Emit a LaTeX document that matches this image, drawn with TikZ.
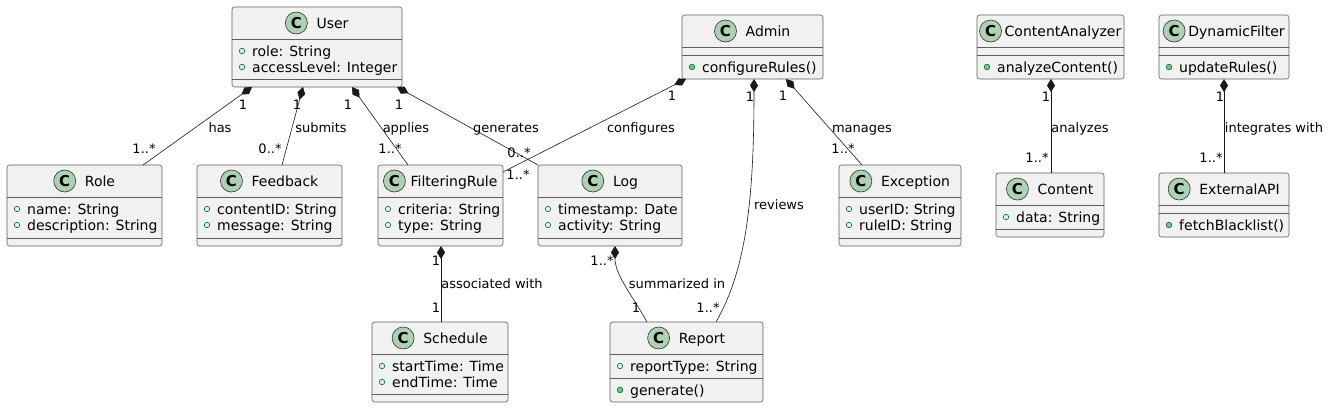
\documentclass[tikz,border=0pt]{standalone}
\usepackage{fontspec}
\setmainfont{DejaVu Sans}
\usetikzlibrary{arrows.meta}
\definecolor{boxfill}{HTML}{F1F1F1}
\definecolor{boxline}{HTML}{5E5E5E}
\definecolor{circline}{HTML}{303030}
\definecolor{circfill}{HTML}{ADD1B2}
\definecolor{icline}{HTML}{038048}
\definecolor{icfill}{HTML}{84BE84}
\tikzset{
  cls/.style={draw=boxline, fill=boxfill, line width=0.6pt, rounded corners=2.5pt, inner sep=0pt, outer sep=0pt, anchor=north west},
  ttl/.style={font=\fontsize{14}{16}\selectfont, inner sep=0pt, anchor=base},
  circ/.style={circle, draw=circline, fill=circfill, line width=0.6pt, minimum size=22pt, inner sep=0pt, font=\bfseries\fontsize{15}{15}\selectfont},
  atxt/.style={font=\fontsize{14}{16}\selectfont, inner sep=0pt, anchor=base west},
  sepline/.style={draw=boxline, line width=0.6pt},
  lbl/.style={font=\fontsize{13}{15}\selectfont, inner sep=0pt, anchor=base},
  comp/.style={draw=black!90, line width=0.6pt, {Diamond[length=13pt,width=8pt]}-},
}
\newcommand\clsbox[5]{%
  \pgfmathsetmacro\bw{#4-#2}\pgfmathsetmacro\bh{#5-#3}%
  \node[cls, minimum width=\bw pt, minimum height=\bh pt] (#1) at (#2,#3) {};}
\newcommand\clshead[5]{%
  \pgfmathsetmacro\sh{(22+#5)/2}\pgfmathsetmacro\cs{#5+11}%
  \node[ttl] (#1-t) at (#3+\sh,#4+5) {#2};
  \node[circ] (#1-c) at ([xshift=-\cs pt, yshift=5pt]#1-t.base west) {C};}
\newcommand\hsep[3]{\draw[sepline] (#1,#3) -- (#2,#3);}
\newcommand\attr[4]{%
  \draw[icline, line width=0.7pt] (#2+10,#3-5) circle[radius=2.7pt];
  \node[atxt] (#1) at (#2+20,#3) {#4};}
\newcommand\meth[4]{%
  \draw[icline, fill=icfill, line width=0.7pt] (#2+10,#3-5) circle[radius=2.8pt];
  \node[atxt] (#1) at (#2+20,#3) {#4};}
\begin{document}
\begin{tikzpicture}[x=1pt,y=-1pt]
\useasboundingbox[fill=white] (0,0) rectangle (1330,408);

% User
\clsbox{user}{232}{7}{402}{87}
\clshead{user}{User}{317}{23}{9}
\hsep{232}{402}{39}
\attr{user-a1}{232}{56}{role: String}
\attr{user-a2}{232}{72}{accessLevel: Integer}
\hsep{232}{402}{79}

% Admin
\clsbox{admin}{682}{15}{823}{79}
\clshead{admin}{Admin}{752.5}{31}{9}
\hsep{682}{823}{47}
\hsep{682}{823}{55}
\meth{admin-m1}{682}{72}{configureRules()}

% ContentAnalyzer
\clsbox{canalyzer}{977}{15}{1124}{79}
\clshead{canalyzer}{ContentAnalyzer}{1050.5}{31}{3}
\hsep{977}{1124}{47}
\hsep{977}{1124}{55}
\meth{canalyzer-m1}{977}{72}{analyzeContent()}

% DynamicFilter
\clsbox{dfilter}{1159}{15}{1289}{79}
\clshead{dfilter}{DynamicFilter}{1224}{31}{3}
\hsep{1159}{1289}{47}
\hsep{1159}{1289}{55}
\meth{dfilter-m1}{1159}{72}{updateRules()}

% Role
\clsbox{role}{7}{165}{162}{246}
\clshead{role}{Role}{84.5}{181}{9}
\hsep{7}{162}{197}
\attr{role-a1}{7}{214}{name: String}
\attr{role-a2}{7}{230}{description: String}
\hsep{7}{162}{238}

% Feedback
\clsbox{feedback}{197}{165}{342}{246}
\clshead{feedback}{Feedback}{269.5}{181}{9}
\hsep{197}{342}{197}
\attr{feedback-a1}{197}{214}{contentID: String}
\attr{feedback-a2}{197}{230}{message: String}
\hsep{197}{342}{238}

% FilteringRule
\clsbox{frule}{378}{165}{503}{246}
\clshead{frule}{FilteringRule}{440.5}{181}{5}
\hsep{378}{503}{197}
\attr{frule-a1}{378}{214}{criteria: String}
\attr{frule-a2}{378}{230}{type: String}
\hsep{378}{503}{238}

% Log
\clsbox{log}{538}{165}{682}{246}
\clshead{log}{Log}{610}{181}{9}
\hsep{538}{682}{197}
\attr{log-a1}{538}{214}{timestamp: Date}
\attr{log-a2}{538}{230}{activity: String}
\hsep{538}{682}{238}

% Exception
\clsbox{exception}{839}{165}{961}{246}
\clshead{exception}{Exception}{900}{181}{9}
\hsep{839}{961}{197}
\attr{exception-a1}{839}{214}{userID: String}
\attr{exception-a2}{839}{230}{ruleID: String}
\hsep{839}{961}{238}

% Content
\clsbox{content}{996}{173}{1104}{237}
\clshead{content}{Content}{1050}{189}{9}
\hsep{996}{1104}{205}
\attr{content-a1}{996}{222}{data: String}
\hsep{996}{1104}{229}

% ExternalAPI
\clsbox{extapi}{1159}{173}{1289}{237}
\clshead{extapi}{ExternalAPI}{1224}{189}{9}
\hsep{1159}{1289}{205}
\hsep{1159}{1289}{213}
\meth{extapi-m1}{1159}{230}{fetchBlacklist()}

% Schedule
\clsbox{schedule}{372}{322}{508}{402}
\clshead{schedule}{Schedule}{440}{338}{9}
\hsep{372}{508}{354}
\attr{schedule-a1}{372}{371}{startTime: Time}
\attr{schedule-a2}{372}{387}{endTime: Time}
\hsep{372}{508}{394}

% Report
\clsbox{report}{610}{322}{763}{402}
\clshead{report}{Report}{686.5}{338}{9}
\hsep{610}{763}{354}
\attr{report-a1}{610}{371}{reportType: String}
\hsep{610}{763}{378}
\meth{report-m1}{610}{395}{generate()}

% Connectors
\draw[comp] (user.south -| 252,0) -- (role.north -| 143,0);
\draw[comp] (user.south -| 303,0) -- (feedback.north -| 282,0);
\draw[comp] (user.south -| 352,0) -- (frule.north -| 408,0);
\draw[comp] (user.south -| 397,0) -- (log.north west);
\draw[comp] (admin.south -| 686,0) -- (frule.east |- 0,172);
\draw[comp] (admin.south -| 754,0) .. controls (754,200) and (746,270) .. (report.north -| 716,0);
\draw[comp] (admin.south -| 786,0) -- (exception.north -| 862,0);
\draw[comp] (canalyzer.south -| 1051,0) -- (content.north -| 1051,0);
\draw[comp] (dfilter.south -| 1224,0) -- (extapi.north -| 1224,0);
\draw[comp] (frule.south -| 441,0) -- (schedule.north -| 441,0);
\draw[comp] (log.south -| 615,0) .. controls (615,275) and (632,295) .. (report.north -| 647,0);

% Labels
\node[lbl] (l-has) at (220,132) {has};
\node[lbl] (l-sub) at (321,132) {submits};
\node[lbl] (l-app) at (406,132) {applies};
\node[lbl] (l-gen) at (506,132) {generates};
\node[lbl] (l-conf) at (641,132) {configures};
\node[lbl] (l-man) at (862,132) {manages};
\node[lbl] (l-ana) at (1080,132) {analyzes};
\node[lbl] (l-int) at (1274,132) {integrates with};
\node[lbl] (l-rev) at (779,209) {reviews};
\node[lbl] (l-ass) at (492,288) {associated with};
\node[lbl] (l-sum) at (677,288) {summarized in};

% Multiplicities
\node[lbl] (m1a) at (243,109) {1};
\node[lbl] (m1b) at (144,153) {1..*};
\node[lbl] (m2a) at (297,109) {1};
\node[lbl] (m2b) at (270,153) {0..*};
\node[lbl] (m3a) at (348,109) {1};
\node[lbl] (m3b) at (390,153) {1..*};
\node[lbl] (m4a) at (399,109) {1};
\node[lbl] (m4b) at (519,157) {0..*};
\node[lbl] (m5a) at (672,100) {1};
\node[lbl] (m5b) at (518,179) {1..*};
\node[lbl] (m6a) at (750,101) {1};
\node[lbl] (m6b) at (708,312) {1..*};
\node[lbl] (m7a) at (783,100) {1};
\node[lbl] (m7b) at (843,153) {1..*};
\node[lbl] (m8a) at (1046,101) {1};
\node[lbl] (m8b) at (1037,162) {1..*};
\node[lbl] (m9a) at (1220,101) {1};
\node[lbl] (m9b) at (1211,162) {1..*};
\node[lbl] (m10a) at (436,265) {1};
\node[lbl] (m10b) at (436,312) {1};
\node[lbl] (m11a) at (602,265) {1..*};
\node[lbl] (m11b) at (636,312) {1};
\end{tikzpicture}
\end{document}
